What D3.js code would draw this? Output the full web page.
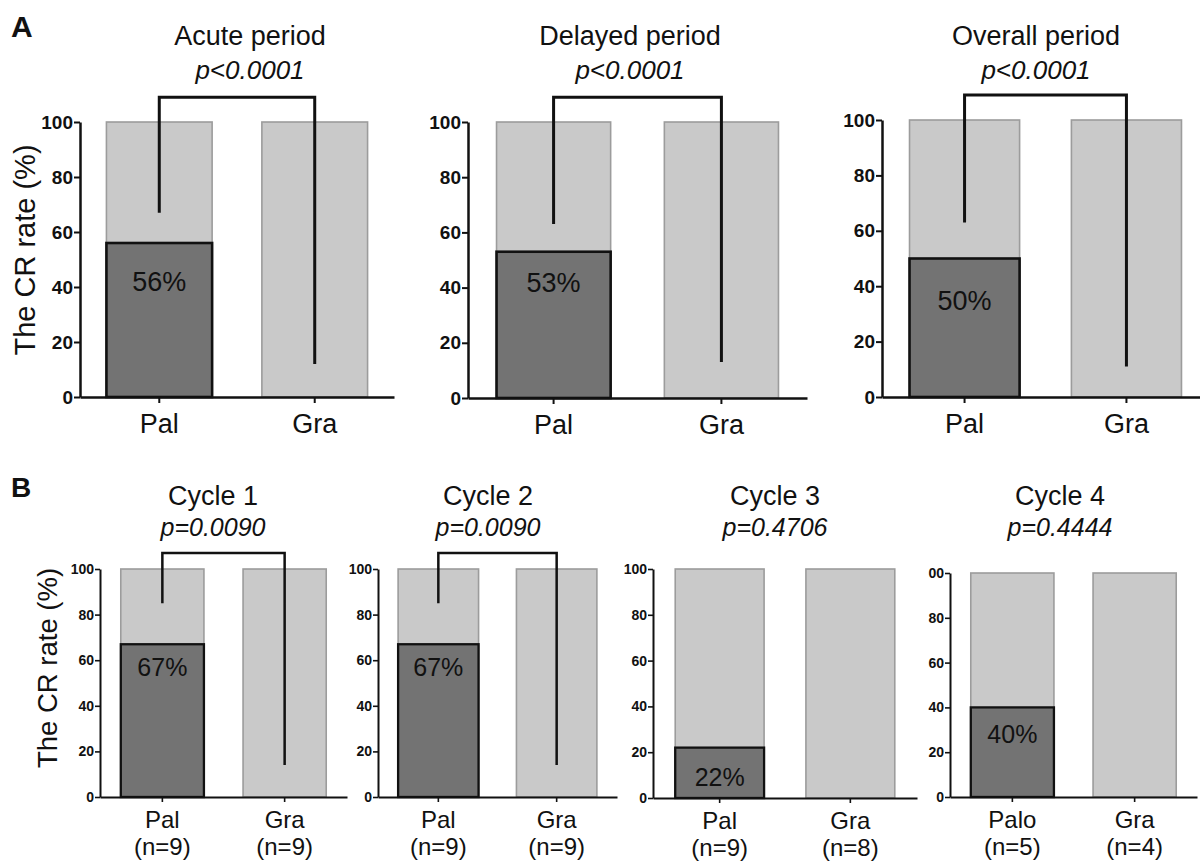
<!DOCTYPE html>
<html>
<head>
<meta charset="utf-8">
<script src="https://cdn.jsdelivr.net/npm/d3@7"></script>
<style>
  html, body { margin: 0; padding: 0; background: #ffffff; }
  svg { display: block; }
  text { font-family: "Liberation Sans", Arial, sans-serif; fill: #111; }
  .tick text { font-family: "Liberation Sans Narrow", "Liberation Sans", Arial, sans-serif; font-weight: bold; fill: #111; }
</style>
</head>
<body>
<svg id="chart" width="1200" height="861"></svg>
<script>
// ---------------- DATA ----------------
const yTicks = [0, 20, 40, 60, 80, 100];
const yTickLabelsA = ["0", "20", "40", "60", "80", "100"];
const yTickLabelsB = [
  ["0", "20", "40", "60", "80", "100"],
  ["0", "20", "40", "60", "80", "100"],
  ["0", "20", "40", "60", "80", "100"],
  ["0", "20", "40", "60", "80", "00"]
];
const barTotal = 100;

// Panel A
const aTitles = ["Acute period", "Delayed period", "Overall period"];
const aPValues = ["p<0.0001", "p<0.0001", "p<0.0001"];
const aCategories = ["Pal", "Gra"];
const aPalRate = [56, 53, 50];
const aPalLabels = ["56%", "53%", "50%"];
const aPalLabelAt = [42, 42, 35];
const aBracketTop = [109, 109, 109];
const aBracketPalEnd = [67, 63, 63];
const aBracketGraEnd = [12, 13, 11];

// Panel B
const bTitles = ["Cycle 1", "Cycle 2", "Cycle 3", "Cycle 4"];
const bPValues = ["p=0.0090", "p=0.0090", "p=0.4706", "p=0.4444"];
const bCategories = [["Pal", "Gra"], ["Pal", "Gra"], ["Pal", "Gra"], ["Palo", "Gra"]];
const bNLabels = [["(n=9)", "(n=9)"], ["(n=9)", "(n=9)"], ["(n=9)", "(n=8)"], ["(n=5)", "(n=4)"]];
const bPalRate = [67, 67, 22, 40];
const bPalLabels = ["67%", "67%", "22%", "40%"];
const bPalLabelAt = [57, 57, 9, 28];
const bHasBracket = [true, true, false, false];
const bBracketTop = [107, 107, null, null];
const bBracketPalEnd = [85, 85, null, null];
const bBracketGraEnd = [14, 14, null, null];

// ---------------- LAYOUT ----------------
const svg = d3.select("#chart");

const layoutA = [
  { x0: 80,  x1: 394,  y0: 397, y100: 122, titleX: 250 },
  { x0: 468, x1: 807,  y0: 398, y100: 122, titleX: 630 },
  { x0: 882, x1: 1209, y0: 397, y100: 120, titleX: 1036 }
];
const layoutB = [
  { x0: 100, x1: 347,  y0: 797, y100: 569, titleX: 213 },
  { x0: 378, x1: 617,  y0: 797, y100: 569, titleX: 488 },
  { x0: 653, x1: 917,  y0: 798, y100: 569, titleX: 775 },
  { x0: 950, x1: 1197, y0: 797, y100: 573, titleX: 1060 }
];

const styleA = {
  axisW: 2.5, barStrokeW: 2.6, bracketW: 3, tickFont: 19, tickLen: 6,
  titleFont: 27, titleY: 45, pFont: 26, pY: 79,
  labelFont: 27, labelDy: 36, pctFont: 27
};
const styleB = {
  axisW: 2, barStrokeW: 2.3, bracketW: 2.5, tickFont: 14, tickLen: 5,
  titleFont: 27, titleY: 505, pFont: 25, pY: 536,
  labelFont: 24, labelDy: 31, pctFont: 25
};

function drawChart(L, S, cfg) {
  const g = svg.append("g");
  const x = d3.scaleBand().domain(cfg.categories).range([L.x0, L.x1])
    .paddingInner(0.32).paddingOuter(0.17);
  const y = d3.scaleLinear().domain([0, 100]).range([L.y0, L.y100]);

  // light background bars (total 100%)
  g.selectAll("rect.bg").data(cfg.categories).enter().append("rect")
    .attr("class", "bg")
    .attr("x", d => x(d))
    .attr("y", y(barTotal))
    .attr("width", x.bandwidth())
    .attr("height", y(0) - y(barTotal))
    .attr("fill", "#c9c9c9")
    .attr("stroke", "#9c9c9c")
    .attr("stroke-width", 1.6);

  // dark CR bar (Pal group)
  const pal = cfg.categories[0];
  g.append("rect")
    .attr("x", x(pal))
    .attr("y", y(cfg.palRate))
    .attr("width", x.bandwidth())
    .attr("height", y(0) - y(cfg.palRate))
    .attr("fill", "#737373")
    .attr("stroke", "#111")
    .attr("stroke-width", S.barStrokeW);

  // percentage label
  g.append("text")
    .attr("x", x(pal) + x.bandwidth() / 2)
    .attr("y", y(cfg.palLabelAt))
    .attr("dy", "0.36em")
    .attr("text-anchor", "middle")
    .attr("font-size", S.pctFont)
    .text(cfg.palLabel);

  // bracket
  if (cfg.bracket) {
    const xa = x(cfg.categories[0]) + x.bandwidth() / 2;
    const xb = x(cfg.categories[1]) + x.bandwidth() / 2;
    const p = d3.path();
    p.moveTo(xa, y(cfg.bracketPalEnd));
    p.lineTo(xa, y(cfg.bracketTop));
    p.lineTo(xb, y(cfg.bracketTop));
    p.lineTo(xb, y(cfg.bracketGraEnd));
    g.append("path").attr("d", p.toString())
      .attr("fill", "none").attr("stroke", "#111")
      .attr("stroke-width", S.bracketW).attr("stroke-linejoin", "miter");
  }

  // y axis
  const yAxis = d3.axisLeft(y).tickValues(yTicks)
    .tickFormat((d, i) => cfg.tickLabels[i])
    .tickSize(S.tickLen).tickSizeOuter(0).tickPadding(1);
  const ya = g.append("g").attr("transform", `translate(${L.x0},0)`).call(yAxis);
  ya.select(".domain").attr("stroke", "#111").attr("stroke-width", S.axisW);
  ya.selectAll(".tick line").attr("stroke", "#111").attr("stroke-width", S.axisW * 0.8);
  ya.selectAll(".tick text").attr("font-size", S.tickFont).attr("fill", "#111");

  // x axis
  const xAxis = d3.axisBottom(x).tickSize(S.tickLen).tickSizeOuter(0).tickFormat("");
  const xa = g.append("g").attr("transform", `translate(0,${L.y0})`).call(xAxis);
  xa.select(".domain").attr("stroke", "#111").attr("stroke-width", S.axisW);
  xa.selectAll(".tick line").attr("stroke", "#111").attr("stroke-width", S.axisW * 0.8);

  // category labels
  cfg.categories.forEach((c, i) => {
    const cx = x(c) + x.bandwidth() / 2;
    g.append("text").attr("x", cx).attr("y", L.y0 + S.labelDy)
      .attr("text-anchor", "middle").attr("font-size", S.labelFont).text(c);
    if (cfg.nLabels) {
      g.append("text").attr("x", cx).attr("y", L.y0 + S.labelDy + 27)
        .attr("text-anchor", "middle").attr("font-size", S.labelFont).text(cfg.nLabels[i]);
    }
  });

  // titles
  g.append("text").attr("x", L.titleX).attr("y", S.titleY)
    .attr("text-anchor", "middle").attr("font-size", S.titleFont).text(cfg.title);
  g.append("text").attr("x", L.titleX).attr("y", S.pY)
    .attr("text-anchor", "middle").attr("font-size", S.pFont)
    .attr("font-style", "italic").text(cfg.p);
}

aTitles.forEach((t, i) => {
  drawChart(layoutA[i], styleA, {
    categories: aCategories, palRate: aPalRate[i], palLabel: aPalLabels[i],
    palLabelAt: aPalLabelAt[i],
    bracket: true, bracketTop: aBracketTop[i], bracketPalEnd: aBracketPalEnd[i],
    bracketGraEnd: aBracketGraEnd[i], tickLabels: yTickLabelsA,
    title: t, p: aPValues[i]
  });
});

bTitles.forEach((t, i) => {
  drawChart(layoutB[i], styleB, {
    categories: bCategories[i], palRate: bPalRate[i], palLabel: bPalLabels[i],
    palLabelAt: bPalLabelAt[i],
    bracket: bHasBracket[i], bracketTop: bBracketTop[i], bracketPalEnd: bBracketPalEnd[i],
    bracketGraEnd: bBracketGraEnd[i], tickLabels: yTickLabelsB[i],
    nLabels: bNLabels[i], title: t, p: bPValues[i]
  });
});

// y-axis titles
svg.append("text")
  .attr("transform", "translate(35,250) rotate(-90)")
  .attr("text-anchor", "middle").attr("font-size", 29)
  .text("The CR rate (%)");
svg.append("text")
  .attr("transform", "translate(57,668) rotate(-90)")
  .attr("text-anchor", "middle").attr("font-size", 27.5)
  .text("The CR rate (%)");

// panel letters
svg.append("text").attr("x", 11).attr("y", 37)
  .attr("font-size", 30).attr("font-weight", "bold").text("A");
svg.append("text").attr("x", 11).attr("y", 497)
  .attr("font-size", 28).attr("font-weight", "bold").text("B");
</script>
</body>
</html>
